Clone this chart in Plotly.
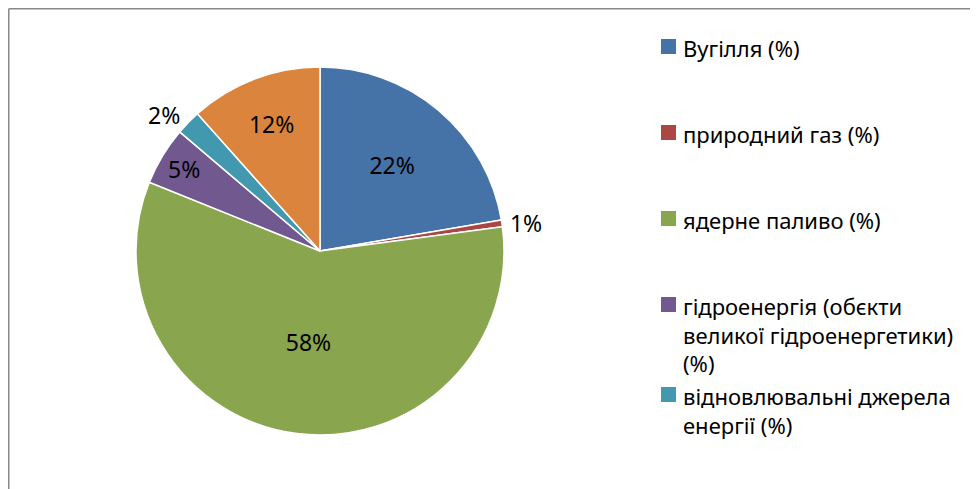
import plotly.graph_objects as go

labels = ["Вугілля (%)", "природний газ (%)", "ядерне паливо (%)",
          "гідроенергія (обєкти великої гідроенергетики) (%)",
          "відновлювальні джерела енергії (%)", "інші джерела (%)"]
legend_text = ["Вугілля (%)", "природний газ (%)", "ядерне паливо (%)",
               "гідроенергія (обєкти<br>великої гідроенергетики)<br>(%)",
               "відновлювальні джерела<br>енергії (%)"]
values = [22.3, 0.6, 58.2, 5.1, 2.2, 11.6]
colors = ["#4572A7", "#AA4643", "#89A54E", "#71588F", "#4198AF", "#DB843D"]
text_pos = ["inside", "outside", "inside", "inside", "outside", "inside"]

W, H = 978, 489
OFF = 8  # page body margin offset
FONT = "Noto Sans"


def px(x):
    return (x - OFF) / W


def py(y):
    return 1 - (y - OFF) / H


fig = go.Figure()
cx, cy, r = 320, 251, 184
fig.add_trace(go.Pie(
    labels=labels, values=values, sort=False, direction="clockwise", rotation=0,
    marker=dict(colors=colors, line=dict(color="white", width=1.5)),
    texttemplate="%{percent:.0%}", textposition=text_pos,
    insidetextorientation="horizontal",
    textfont=dict(family=FONT, size=23, color="black"),
    showlegend=False, automargin=False,
    domain=dict(x=[px(cx - r), px(cx + r)], y=[py(cy + r), py(cy - r)]),
))

shapes = []
annotations = []
row_y = [46, 132, 218, 304, 394]
LF = 22
for i, name in enumerate(legend_text):
    y = row_y[i]
    shapes.append(dict(type="rect", xref="paper", yref="paper",
                       x0=px(661), x1=px(676), y0=py(y + 8), y1=py(y - 7),
                       fillcolor=colors[i], line=dict(width=0)))
    annotations.append(dict(text=name, xref="paper", yref="paper", x=px(681),
                            y=py(y - 15), xanchor="left", yanchor="top",
                            align="left", showarrow=False,
                            font=dict(family=FONT, size=LF, color="black")))
# chart frame (sits at the very edge of the figure)
edge_x = 0.75 / W
edge_y = 1 - 0.75 / H
shapes.append(dict(type="line", xref="paper", yref="paper", x0=edge_x, x1=1.02,
                   y0=edge_y, y1=edge_y, line=dict(color="#888888", width=1.5)))
shapes.append(dict(type="line", xref="paper", yref="paper", x0=edge_x, x1=edge_x,
                   y0=edge_y, y1=-0.02, line=dict(color="#888888", width=1.5)))

fig.update_layout(width=W, height=H, margin=dict(l=0, r=0, t=0, b=0),
                  paper_bgcolor="white", plot_bgcolor="white",
                  shapes=shapes, annotations=annotations)
fig.write_html("out.html")
